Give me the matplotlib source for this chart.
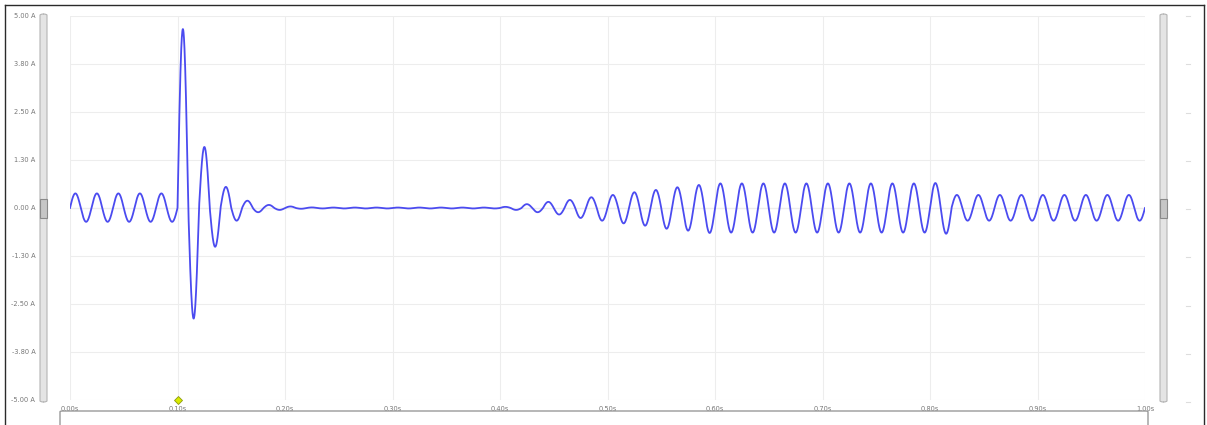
import numpy as np
import matplotlib
matplotlib.use("Agg")
import matplotlib.pyplot as plt
from matplotlib.patches import FancyBboxPatch, Rectangle
from matplotlib.lines import Line2D

W, H = 1207, 425

# signed peak current (A) of each 10 ms half-cycle lobe
lobes_000 = [0.38, -0.36, 0.38, -0.36, 0.38, -0.36, 0.38, -0.36, 0.38, -0.36]
lobes_010 = [4.66, -2.88, 1.59, -1.01, 0.55, -0.33, 0.19, -0.11, 0.08, -0.05]
lobes_020 = [0.04, -0.02, 0.015, -0.012, 0.012, -0.012, 0.012, -0.012, 0.012, -0.012]
lobes_030 = [0.012, -0.012, 0.012, -0.012, 0.012, -0.012, 0.012, -0.012, 0.012, -0.012]
lobes_040 = [0.03, -0.05, 0.10, -0.11, 0.16, -0.17, 0.21, -0.26, 0.28, -0.33]
lobes_050 = [0.34, -0.40, 0.41, -0.46, 0.47, -0.54, 0.54, -0.59, 0.60, -0.65]
lobes_060 = [0.64, -0.64, 0.64, -0.64, 0.64, -0.64, 0.64, -0.64, 0.64, -0.64]
lobes_070 = [0.64, -0.64, 0.64, -0.64, 0.64, -0.64, 0.64, -0.64, 0.64, -0.64]
lobes_080 = [0.65, -0.67, 0.34, -0.33, 0.34, -0.33, 0.34, -0.33, 0.34, -0.33]
lobes_090 = [0.34, -0.33, 0.34, -0.33, 0.34, -0.33, 0.34, -0.33, 0.34, -0.33]
lobe_amps = np.array(lobes_000 + lobes_010 + lobes_020 + lobes_030 + lobes_040
                     + lobes_050 + lobes_060 + lobes_070 + lobes_080 + lobes_090)
half_period = 0.01

y_ticks = [5.0, 3.75, 2.5, 1.25, 0.0, -1.25, -2.5, -3.75, -5.0]
y_labels = ["5.00 A", "3.80 A", "2.50 A", "1.30 A", "0.00 A",
            "-1.30 A", "-2.50 A", "-3.80 A", "-5.00 A"]
x_ticks = [0.0, 0.1, 0.2, 0.3, 0.4, 0.5, 0.6, 0.7, 0.8, 0.9, 1.0]
x_labels = ["0.00s", "0.10s", "0.20s", "0.30s", "0.40s", "0.50s",
            "0.60s", "0.70s", "0.80s", "0.90s", "1.00s"]
marker_t = 0.10

# draw each half-cycle as a sine lobe with its own amplitude
t = np.linspace(0, len(lobe_amps) * half_period, 8001)
idx = np.minimum((t / half_period).astype(int), len(lobe_amps) - 1)
current = lobe_amps[idx] * np.abs(np.sin(np.pi * t / half_period))

fig = plt.figure(figsize=(W / 100, H / 100), dpi=100)
ax = fig.add_axes([70 / W, 1 - 400 / H, 1075 / W, 384 / H])

ax.plot(t, current, color="#4b4bf0", lw=1.3, zorder=3)
ax.set_xlim(0, 1)
ax.set_ylim(-5, 5)

ax.set_yticks(y_ticks)
ax.set_yticklabels(y_labels)
ax.set_xticks(x_ticks)
ax.set_xticklabels(x_labels)
ax.tick_params(axis="y", length=0, pad=25, labelsize=4.8, labelcolor="#777777")
ax.tick_params(axis="x", length=0, pad=4, labelsize=4.8, labelcolor="#777777")
ax.grid(True, color="#ededed", lw=0.8)
ax.axhline(0, color="#d8d8d8", lw=0.8, zorder=1)
for s in ax.spines.values():
    s.set_visible(False)

ax.plot([marker_t], [-5.0], marker="D", ms=4, mfc="#d8ea00", mec="#8c9a10",
        mew=0.6, clip_on=False, zorder=5)


def fx(px):
    return px / W


def fy(py):
    return 1 - py / H


# outer frame
for xs, ys in [([5, 5], [5, H]), ([5, 1204], [5, 5]), ([1204, 1204], [5, H])]:
    fig.add_artist(Line2D([fx(v) for v in xs], [fy(v) for v in ys],
                          color="#2a2a2a", lw=1.0, transform=fig.transFigure))

# bottom panel edge
fig.add_artist(FancyBboxPatch((fx(60), fy(440)), fx(1088), 29 / H,
                              boxstyle="round,pad=0,rounding_size=0.002",
                              fc="white", ec="#9a9a9a", lw=1.0,
                              transform=fig.transFigure))

# zoom sliders on both sides
for x0 in (40, 1160):
    fig.add_artist(FancyBboxPatch((fx(x0), fy(402)), fx(7), 388 / H,
                                  boxstyle="round,pad=0,rounding_size=0.003",
                                  fc="#e4e4e4", ec="#b4b4b4", lw=0.8,
                                  transform=fig.transFigure))
    fig.add_artist(Rectangle((fx(x0), fy(218)), fx(7), 19 / H,
                             fc="#c6c6c6", ec="#8a8a8a", lw=0.8,
                             transform=fig.transFigure))

# faint right-hand tick marks
for yv in y_ticks:
    py = 209 - yv * 38.6
    fig.add_artist(Line2D([fx(1186), fx(1190)], [fy(py), fy(py)],
                          color="#dddddd", lw=0.8, transform=fig.transFigure))

fig.savefig("out.png", dpi=100)
